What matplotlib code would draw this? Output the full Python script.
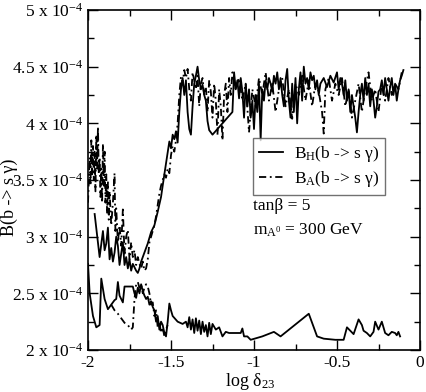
import matplotlib
matplotlib.use("Agg")
import matplotlib.pyplot as plt
import numpy as np

plt.rcParams['font.family'] = ['Liberation Serif', 'DejaVu Serif']
plt.rcParams['mathtext.fontset'] = 'custom'
plt.rcParams['mathtext.rm'] = 'Liberation Serif'
plt.rcParams['mathtext.it'] = 'Liberation Serif:italic'

# B_H(b -> s gamma), upper branch (units of 1e-4)
h_up_x = [-1.96, -1.94, -1.93, -1.91, -1.90, -1.89, -1.88, -1.87, -1.86, -1.85,
          -1.84, -1.83, -1.82, -1.81, -1.80, -1.79, -1.78, -1.77, -1.76, -1.75,
          -1.74, -1.73, -1.72, -1.71, -1.70, -1.69, -1.68, -1.66, -1.64, -1.62,
          -1.60, -1.58, -1.56, -1.54, -1.52, -1.51, -1.50, -1.49, -1.48, -1.47,
          -1.46, -1.45, -1.44, -1.43, -1.42, -1.41, -1.40, -1.39, -1.38, -1.37,
          -1.36, -1.35, -1.34, -1.33, -1.32, -1.31, -1.30, -1.29, -1.28, -1.27,
          -1.25, -1.13, -1.12, -1.11, -1.10, -1.09, -1.08, -1.07, -1.06, -1.05,
          -1.04, -1.03, -1.02, -1.01, -1.00, -0.99, -0.98, -0.97, -0.96, -0.95,
          -0.94, -0.93, -0.92, -0.91, -0.90, -0.89, -0.88, -0.87, -0.86, -0.85,
          -0.84, -0.83, -0.82, -0.81, -0.80, -0.79, -0.78, -0.77, -0.76, -0.75,
          -0.74, -0.73, -0.72, -0.71, -0.70, -0.69, -0.68, -0.67, -0.66, -0.65,
          -0.64, -0.63, -0.62, -0.61, -0.60, -0.58, -0.56, -0.54, -0.52, -0.50,
          -0.49, -0.48, -0.47, -0.46, -0.45, -0.44, -0.43, -0.42, -0.41, -0.40,
          -0.39, -0.38, -0.37, -0.36, -0.35, -0.34, -0.33, -0.32, -0.31, -0.30,
          -0.29, -0.28, -0.27, -0.26, -0.25, -0.24, -0.23, -0.22, -0.21, -0.20,
          -0.19, -0.18, -0.17, -0.16, -0.15, -0.14, -0.13, -0.12, -0.11, -0.10]
h_up_y = [3.20, 2.95, 2.82, 3.05, 2.88, 2.94, 3.08, 2.80, 2.90, 2.78,
          2.86, 3.00, 2.92, 2.75, 2.85, 2.95, 2.75, 2.82, 2.72, 2.80,
          2.70, 2.76, 2.73, 2.70, 2.68, 2.72, 2.78, 2.86, 2.94, 3.04,
          3.10, 3.22, 3.35, 3.55, 3.74, 3.84, 3.78, 3.90, 3.86, 3.93,
          3.83, 4.10, 4.30, 4.40, 4.25, 4.38, 4.10, 3.95, 3.90, 4.15,
          4.35, 4.42, 4.50, 4.38, 4.30, 4.34, 4.25, 4.20, 4.02, 3.94,
          3.90, 4.10, 4.45, 4.30, 4.38, 4.22, 4.40, 4.28, 4.05, 4.35,
          4.15, 4.30, 4.05, 4.20, 3.95, 4.25, 4.10, 4.35, 3.85, 4.30,
          4.20, 4.38, 4.30, 4.40, 4.35, 4.28, 4.42, 4.35, 4.45, 4.30,
          4.40, 4.25, 4.15, 4.38, 4.48, 4.20, 4.05, 4.35, 4.10, 4.40,
          4.00, 4.30, 4.45, 4.20, 4.50, 4.35, 4.40, 4.30, 4.45, 4.38,
          4.42, 4.30, 4.38, 4.25, 4.35, 4.40, 4.32, 4.42, 4.36, 4.45,
          4.30, 4.40, 4.35, 4.25, 4.38, 4.20, 4.30, 4.10, 4.25, 4.15,
          4.05, 3.92, 4.10, 4.25, 4.35, 4.20, 4.40, 4.25, 4.35, 4.15,
          4.30, 4.20, 4.05, 4.15, 4.28, 4.30, 4.38, 4.25, 4.40, 4.30,
          4.20, 4.32, 4.40, 4.25, 4.35, 4.20, 4.30, 4.38, 4.42, 4.47]

# B_H, lower branch
h_lo_x = [-2.00, -1.99, -1.97, -1.95, -1.93, -1.92, -1.90, -1.88, -1.86, -1.84,
          -1.83, -1.82, -1.81, -1.79, -1.78, -1.76, -1.73, -1.72, -1.71, -1.70,
          -1.69, -1.68, -1.67, -1.66, -1.65, -1.64, -1.63, -1.62, -1.61, -1.60,
          -1.59, -1.58, -1.57, -1.56, -1.55, -1.54, -1.53, -1.52, -1.51, -1.50,
          -1.49, -1.46, -1.43, -1.41, -1.40, -1.39, -1.38, -1.37, -1.36, -1.35,
          -1.34, -1.33, -1.32, -1.31, -1.30, -1.29, -1.28, -1.27, -1.26, -1.25,
          -1.23, -1.21, -1.19, -1.17, -1.15, -1.10, -1.08, -1.07, -1.06, -1.04,
          -1.02, -0.95, -0.88, -0.84, -0.67, -0.62, -0.58, -0.51, -0.46, -0.44,
          -0.42, -0.40, -0.37, -0.35, -0.34, -0.32, -0.30, -0.28, -0.27, -0.25,
          -0.23, -0.21, -0.19, -0.17, -0.15, -0.14, -0.13, -0.12]
h_lo_y = [2.76, 2.50, 2.30, 2.20, 2.22, 2.63, 2.45, 2.36, 2.40, 2.44,
          2.45, 2.60, 2.48, 2.42, 2.56, 2.56, 2.56, 2.50, 2.46, 2.55,
          2.50, 2.58, 2.52, 2.48, 2.45, 2.47, 2.40, 2.43, 2.38, 2.35,
          2.25, 2.30, 2.18, 2.25, 2.22, 2.15, 2.12, 2.25, 2.41, 2.35,
          2.30, 2.25, 2.23, 2.25, 2.20, 2.29, 2.18, 2.27, 2.15, 2.28,
          2.17, 2.26, 2.14, 2.25, 2.16, 2.22, 2.12, 2.24, 2.14, 2.23,
          2.18, 2.20, 2.12, 2.16, 2.15, 2.15, 2.15, 2.19, 2.12, 2.12,
          2.09, 2.12, 2.16, 2.12, 2.32, 2.12, 2.10, 2.09, 2.09, 2.20,
          2.17, 2.14, 2.27, 2.22, 2.17, 2.15, 2.12, 2.16, 2.25, 2.18,
          2.25, 2.15, 2.13, 2.16, 2.15, 2.13, 2.16, 2.12]

# B_A(b -> s gamma), upper branch
a_up_x = [-2.000, -1.990, -1.985, -1.980, -1.975, -1.970, -1.965, -1.960, -1.955, -1.950,
          -1.945, -1.940, -1.935, -1.930, -1.925, -1.920, -1.915, -1.910, -1.905, -1.900,
          -1.895, -1.890, -1.885, -1.880, -1.875, -1.870, -1.860, -1.850, -1.840, -1.835,
          -1.830, -1.820, -1.810, -1.800, -1.790, -1.780, -1.770, -1.760, -1.750, -1.740,
          -1.730, -1.720, -1.710, -1.700, -1.690, -1.680, -1.670, -1.660, -1.650, -1.640,
          -1.630, -1.620, -1.610, -1.600, -1.590, -1.580, -1.570, -1.560, -1.550, -1.540,
          -1.530, -1.520, -1.510, -1.500, -1.490, -1.480, -1.470, -1.460, -1.450, -1.440,
          -1.430, -1.420, -1.410, -1.400, -1.390, -1.380, -1.370, -1.360, -1.350, -1.340,
          -1.330, -1.320, -1.310, -1.300, -1.290, -1.280, -1.270, -1.260, -1.250, -1.240,
          -1.230, -1.220, -1.210, -1.200, -1.190, -1.180, -1.170, -1.160, -1.150, -1.140,
          -1.130, -1.110, -1.090, -1.070, -1.050, -1.030, -1.010, -0.990, -0.970, -0.950,
          -0.930, -0.910, -0.890, -0.870, -0.850, -0.830, -0.810, -0.790, -0.770, -0.750,
          -0.730, -0.710, -0.690, -0.670, -0.650, -0.630, -0.610, -0.590, -0.580, -0.570,
          -0.550, -0.530, -0.510, -0.490, -0.470, -0.450, -0.430, -0.410, -0.390, -0.370,
          -0.350, -0.330, -0.310, -0.290, -0.270, -0.250, -0.230, -0.210, -0.190, -0.170,
          -0.150, -0.130, -0.110]
a_up_y = [3.30, 3.70, 3.45, 3.85, 3.55, 3.80, 3.50, 3.75, 3.40, 3.90,
          3.60, 3.97, 3.55, 3.70, 3.35, 3.60, 3.30, 3.82, 3.45, 3.75,
          3.30, 3.55, 3.20, 3.48, 3.15, 3.40, 3.10, 3.30, 3.56, 3.05,
          3.25, 2.95, 3.10, 2.92, 3.24, 2.85, 3.00, 3.06, 2.80, 2.95,
          2.82, 2.88, 2.75, 2.82, 2.76, 2.72, 2.78, 2.70, 2.72, 2.80,
          2.95, 3.00, 3.05, 3.10, 3.18, 3.28, 3.38, 3.45, 3.50, 3.55,
          3.52, 3.60, 3.56, 3.72, 3.80, 3.75, 3.85, 4.00, 4.25, 4.41,
          4.35, 4.47, 4.40, 4.48, 4.30, 4.20, 4.45, 4.38, 4.30, 4.42,
          4.15, 4.35, 4.40, 4.25, 4.32, 4.10, 4.38, 4.28, 4.05, 4.35,
          4.20, 3.90, 4.30, 4.15, 3.85, 4.25, 4.35, 4.10, 4.40, 4.25,
          4.45, 4.30, 4.40, 4.20, 4.35, 3.92, 4.30, 4.15, 4.40, 4.25,
          4.45, 4.20, 4.35, 4.10, 4.30, 4.40, 4.15, 4.30, 4.04, 4.35,
          4.25, 4.42, 4.20, 4.38, 4.15, 4.35, 4.28, 4.10, 3.91, 4.30,
          4.40, 4.20, 4.35, 4.25, 4.40, 4.15, 4.30, 4.05, 4.20, 4.35,
          4.10, 4.30, 4.45, 4.20, 4.30, 4.10, 4.35, 4.20, 4.40, 4.25,
          4.35, 4.30, 4.45]

# B_A, lower branch
a_lo_x = [-1.86, -1.84, -1.82, -1.80, -1.78, -1.76, -1.74, -1.73, -1.72, -1.71,
          -1.70, -1.69, -1.68, -1.67, -1.66, -1.65, -1.64, -1.63, -1.62, -1.61,
          -1.60, -1.59, -1.58, -1.57, -1.56, -1.55, -1.54, -1.53, -1.52]
a_lo_y = [2.40, 2.35, 2.32, 2.28, 2.24, 2.22, 2.18, 2.20, 2.45, 2.58,
          2.60, 2.55, 2.58, 2.50, 2.55, 2.58, 2.56, 2.50, 2.40, 2.42,
          2.30, 2.35, 2.20, 2.25, 2.15, 2.20, 2.12, 2.18, 2.22]

y_ticks = [2, 2.5, 3, 3.5, 4, 4.5, 5]
y_labels = ["2 x 10$^{-4}$", "2.5 x 10$^{-4}$", "3 x 10$^{-4}$", "3.5 x 10$^{-4}$",
            "4 x 10$^{-4}$", "4.5 x 10$^{-4}$", "5 x 10$^{-4}$"]
x_ticks = [-2, -1.5, -1, -0.5, 0]
x_labels = ["-2", "-1.5", "-1", "-0.5", "0"]

fig = plt.figure(figsize=(4.26, 3.92), dpi=100)
ax = fig.add_axes([88/426, 1 - 350/392, 332/426, 340/392])

dashdot = (0, (4, 2, 1, 2))
lh, = ax.plot(h_up_x, h_up_y, color='black', lw=1.3)
ax.plot(h_lo_x, h_lo_y, color='black', lw=1.3)
la, = ax.plot(a_up_x, a_up_y, color='black', lw=1.3, ls=dashdot)
ax.plot(a_lo_x, a_lo_y, color='black', lw=1.3, ls=dashdot)

ax.set_xlim(-2, 0)
ax.set_ylim(2, 5)
ax.set_xticks(x_ticks)
ax.set_xticklabels(x_labels)
ax.set_yticks(y_ticks)
ax.set_yticklabels(y_labels)
ax.set_xticks(np.arange(-1.75, 0, 0.5), minor=True)
ax.set_yticks(np.arange(2.25, 5, 0.5), minor=True)
ax.tick_params(which='both', direction='in', top=True, right=True, labelsize=12.5, width=1)
ax.tick_params(which='major', length=7)
ax.tick_params(which='minor', length=4)
for s in ax.spines.values():
    s.set_linewidth(1.2)

fig.text(250/426, 1 - 381/392, "log δ$_{23}$", fontsize=13, ha='center', va='center')
fig.text(9/426, 1 - 197/392, "B(b -> s γ)", fontsize=13, ha='center', va='center',
         rotation=90)

leg = ax.legend([lh, la], ["B$_{\\mathrm{H}}$(b -> s γ)", "B$_{\\mathrm{A}}$(b -> s γ)"],
                loc='upper left', bbox_to_anchor=(253/426, 1 - 138/392),
                bbox_transform=fig.transFigure, fontsize=12.5, fancybox=False,
                handlelength=1.4, borderpad=0.35, labelspacing=0.3, handletextpad=0.6,
                borderaxespad=0)
leg.get_frame().set_edgecolor('0.3')
leg.get_frame().set_linewidth(1.0)

fig.text(253/426, 1 - 206/392, "tanβ = 5", fontsize=12.5, va='center')
fig.text(253/426, 1 - 230/392, "m$_{\\mathrm{A}^0}$ = 300 GeV", fontsize=12.5, va='center')

fig.savefig("out.png", dpi=100)
